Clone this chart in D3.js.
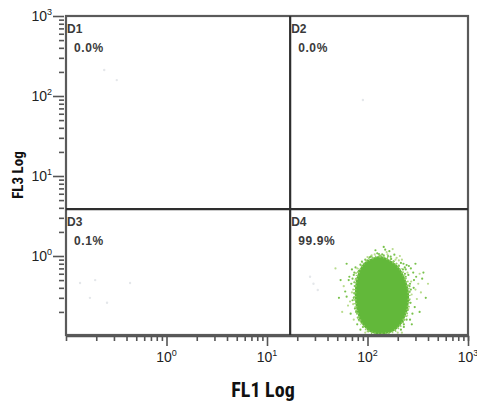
<!DOCTYPE html>
<html>
<head>
<meta charset="utf-8">
<script src="https://cdn.jsdelivr.net/npm/d3@7"></script>
<style>
  body { margin: 0; background: #fff; }
  svg { display: block; }
  .axis-title { font-family: "Liberation Sans Narrow", "Roboto Condensed", "DejaVu Sans Condensed", "Liberation Sans", sans-serif; font-weight: bold; font-stretch: condensed; fill: #111; }
  .tick-label { font-family: "Liberation Sans Narrow", "Liberation Sans", Arial, sans-serif; fill: #222; }
  .quad { font-family: "Liberation Sans", Arial, sans-serif; font-weight: bold; fill: #3a3a3a; }
</style>
</head>
<body>
<div id="chart"></div>
<script>
const WIDTH = 477;
const HEIGHT = 410;

// axis decades and labels
const X_DOMAIN = [0.1, 1000];
const Y_DOMAIN = [0.1, 1000];
const X_MAJOR = [1, 10, 100, 1000];
const Y_MAJOR = [1, 10, 100, 1000];
const X_EXPONENTS = ["0", "1", "2", "3"];
const Y_EXPONENTS = ["0", "1", "2", "3"];

// quadrant gates (FL1, FL3) and their stats
const GATE_FL1 = 17;
const GATE_FL3 = 3.85;
const QUAD_NAMES = ["D1", "D2", "D3", "D4"];
const QUAD_PERCENTS = ["0.0%", "0.0%", "0.1%", "99.9%"];

// outline of the dense population in D4, [FL1, FL3]
const CORE_OUTLINE = [
  [111, 0.94], [133, 1.0], [160, 0.92], [201, 0.75], [236, 0.53],
  [259, 0.33], [247, 0.20], [210, 0.133], [167, 0.109], [111, 0.109],
  [88, 0.141], [77, 0.224], [75, 0.376], [80, 0.596], [92, 0.82]
];

// sparse events around the population, [FL1, FL3]
const FRINGE_EVENTS = [
  [58, 0.42], [62, 0.31], [66, 0.55], [64, 0.24], [70, 0.68], [68, 0.19], [72, 0.38],
  [71, 0.28], [74, 0.47], [73, 0.16], [76, 0.72], [75, 0.22], [78, 0.33], [69, 0.45],
  [60, 0.36], [77, 0.61], [79, 0.14], [65, 0.5], [67, 0.27], [73, 0.58],
  [262, 0.42], [275, 0.33], [290, 0.5], [268, 0.26], [300, 0.38], [285, 0.62], [270, 0.7],
  [310, 0.29], [255, 0.58], [280, 0.19], [320, 0.45], [295, 0.23], [265, 0.16], [340, 0.35],
  [258, 0.75], [305, 0.55], [272, 0.48], [288, 0.4], [350, 0.52], [330, 0.6], [276, 0.14],
  [95, 0.9], [110, 1.02], [125, 1.08], [140, 1.05], [155, 1.12], [170, 0.98], [185, 1.04],
  [205, 0.88], [120, 1.18], [150, 1.2], [100, 0.97], [135, 0.99], [165, 1.15], [195, 0.95],
  [215, 0.82], [88, 0.85], [178, 1.22], [115, 0.93], [145, 1.3], [210, 1.0],
  [85, 0.78], [82, 0.65], [90, 0.72], [228, 0.8], [240, 0.68], [220, 0.9], [245, 0.77],
  [85, 0.12], [95, 0.11], [80, 0.17], [230, 0.13], [220, 0.11], [245, 0.16], [250, 0.21],
  [86, 0.15], [78, 0.52], [80, 0.3], [82, 0.2], [236, 0.6], [248, 0.4], [240, 0.25],
  [225, 0.15], [105, 0.96], [190, 0.9], [160, 1.0], [52, 0.3], [48, 0.7], [54, 0.5],
  [380, 0.3], [400, 0.45], [360, 0.62], [62, 0.8], [56, 0.2], [300, 0.8], [330, 0.2],
  [72, 0.25], [74, 0.34], [75, 0.42], [76, 0.5], [74, 0.62], [77, 0.2], [79, 0.7],
  [73, 0.3], [71, 0.52], [70, 0.35], [100, 0.88], [108, 0.98], [118, 1.05], [130, 1.06],
  [145, 1.02], [158, 1.05], [172, 0.92], [182, 0.86], [195, 0.8], [205, 0.76], [98, 0.8],
  [92, 0.76], [225, 0.68], [240, 0.55], [252, 0.48], [262, 0.36], [258, 0.28], [255, 0.22],
  [245, 0.3], [265, 0.45], [250, 0.62], [235, 0.72], [270, 0.38], [248, 0.18], [230, 0.14],
  [215, 0.12], [200, 0.11], [90, 0.13], [82, 0.16], [100, 0.115]
];

// faint stray events in the other quadrants, [FL1, FL3]
const STRAY_EVENTS = [
  [0.24, 211], [0.32, 158], [90, 89],
  [0.138, 0.46], [0.195, 0.5], [0.256, 0.26], [0.434, 0.46], [0.173, 0.3],
  [26.8, 0.55], [32, 0.376], [29, 0.45]
];

const X_SCALE = d3.scaleLog().domain(X_DOMAIN).range([66, 468]);
const Y_SCALE = d3.scaleLog().domain(Y_DOMAIN).range([336, 16]);

const SVG = d3.select("#chart").append("svg")
  .attr("width", WIDTH)
  .attr("height", HEIGHT);

const PLOT_LEFT = X_SCALE(X_DOMAIN[0]);
const PLOT_RIGHT = X_SCALE(X_DOMAIN[1]);
const PLOT_TOP = Y_SCALE(Y_DOMAIN[1]);
const PLOT_BOTTOM = Y_SCALE(Y_DOMAIN[0]) - 1;

SVG.append("defs").append("clipPath").attr("id", "plot-clip")
  .append("rect")
  .attr("x", PLOT_LEFT).attr("y", PLOT_TOP)
  .attr("width", PLOT_RIGHT - PLOT_LEFT).attr("height", PLOT_BOTTOM - PLOT_TOP);

const DOTS = SVG.append("g").attr("clip-path", "url(#plot-clip)");

DOTS.selectAll("circle.stray")
  .data(STRAY_EVENTS)
  .enter()
  .append("circle")
  .attr("class", "stray")
  .attr("cx", (d) => X_SCALE(d[0]))
  .attr("cy", (d) => Y_SCALE(d[1]))
  .attr("r", 1.2)
  .attr("fill", "#e4e7ea");

DOTS.selectAll("circle.fringe")
  .data(FRINGE_EVENTS)
  .enter()
  .append("circle")
  .attr("class", "fringe")
  .attr("cx", (d) => X_SCALE(d[0]))
  .attr("cy", (d) => Y_SCALE(d[1]))
  .attr("r", 1.1)
  .attr("fill", (d, i) => (i % 3 === 0 ? "#b9dc8e" : "#79c24c"));

const CORE_LINE = d3.line()
  .x((d) => X_SCALE(d[0]))
  .y((d) => Y_SCALE(d[1]))
  .curve(d3.curveCatmullRomClosed);

DOTS.append("path")
  .datum(CORE_OUTLINE)
  .attr("d", CORE_LINE)
  .attr("fill", "#62b83a")
  .attr("stroke", "#8fcb62")
  .attr("stroke-width", 3)
  .attr("stroke-dasharray", "1.5 2 1 2.5");

// plot frame and quadrant gates
SVG.append("rect")
  .attr("x", PLOT_LEFT)
  .attr("y", PLOT_TOP)
  .attr("width", PLOT_RIGHT - PLOT_LEFT)
  .attr("height", PLOT_BOTTOM - PLOT_TOP)
  .attr("fill", "none")
  .attr("stroke", "#5a5a5a")
  .attr("stroke-width", 2.2);

SVG.append("line")
  .attr("x1", X_SCALE(GATE_FL1)).attr("x2", X_SCALE(GATE_FL1))
  .attr("y1", PLOT_TOP).attr("y2", PLOT_BOTTOM)
  .attr("stroke", "#2e2e2e").attr("stroke-width", 2.2);

SVG.append("line")
  .attr("x1", PLOT_LEFT).attr("x2", PLOT_RIGHT)
  .attr("y1", Y_SCALE(GATE_FL3)).attr("y2", Y_SCALE(GATE_FL3))
  .attr("stroke", "#2e2e2e").attr("stroke-width", 2.2);

// quadrant labels
const QUAD_POS = [
  [PLOT_LEFT, PLOT_TOP],
  [X_SCALE(GATE_FL1), PLOT_TOP],
  [PLOT_LEFT, Y_SCALE(GATE_FL3)],
  [X_SCALE(GATE_FL1), Y_SCALE(GATE_FL3)]
];

QUAD_NAMES.forEach((name, i) => {
  const [qx, qy] = QUAD_POS[i];
  SVG.append("text")
    .attr("class", "quad")
    .attr("x", qx + 1)
    .attr("y", qy + 17)
    .style("font-size", "12px")
    .text(name);
  SVG.append("text")
    .attr("class", "quad")
    .attr("x", qx + 8)
    .attr("y", qy + 36)
    .style("font-size", "12px")
    .style("letter-spacing", "0.6px")
    .text(QUAD_PERCENTS[i]);
});

// axes
const X_MINOR = X_SCALE.ticks().filter((v) => X_MAJOR.indexOf(v) < 0 && v > X_DOMAIN[0]);
const Y_MINOR = Y_SCALE.ticks().filter((v) => Y_MAJOR.indexOf(v) < 0 && v > Y_DOMAIN[0]);

const X_AXIS_Y = Y_SCALE(Y_DOMAIN[0]);

const X_AXIS_G = SVG.append("g").attr("transform", "translate(0," + X_AXIS_Y + ")");
X_AXIS_G.append("g")
  .call(d3.axisBottom(X_SCALE).tickValues(X_MINOR).tickSize(5).tickFormat(""));
X_AXIS_G.append("g")
  .call(d3.axisBottom(X_SCALE).tickValues(X_MAJOR).tickSize(10).tickFormat(""))
  .select(".domain").remove();
X_AXIS_G.selectAll("path, line")
  .attr("stroke", "#555")
  .attr("stroke-width", 1.6);

const Y_AXIS_G = SVG.append("g").attr("transform", "translate(64,0)");
Y_AXIS_G.append("g")
  .call(d3.axisLeft(Y_SCALE).tickValues(Y_MINOR).tickSize(5).tickFormat(""));
Y_AXIS_G.append("g")
  .call(d3.axisLeft(Y_SCALE).tickValues(Y_MAJOR).tickSize(11).tickFormat(""));
Y_AXIS_G.selectAll(".domain").remove();
Y_AXIS_G.selectAll("line")
  .attr("stroke", "#555")
  .attr("stroke-width", 1.6);

X_MAJOR.forEach((v, i) => {
  const t = SVG.append("text")
    .attr("class", "tick-label")
    .attr("x", X_SCALE(v))
    .attr("y", 362)
    .attr("text-anchor", "middle")
    .style("font-size", "14px");
  t.append("tspan").text("10");
  t.append("tspan").attr("dy", -6).style("font-size", "9px").text(X_EXPONENTS[i]);
});

Y_MAJOR.forEach((v, i) => {
  const t = SVG.append("text")
    .attr("class", "tick-label")
    .attr("x", 52)
    .attr("y", Y_SCALE(v) + 5)
    .attr("text-anchor", "end")
    .style("font-size", "14px");
  t.append("tspan").text("10");
  t.append("tspan").attr("dy", -6).style("font-size", "9px").text(Y_EXPONENTS[i]);
});

SVG.append("text")
  .attr("class", "axis-title")
  .attr("x", 263)
  .attr("y", 397)
  .attr("text-anchor", "middle")
  .style("font-size", "20px")
  .text("FL1 Log");

SVG.append("text")
  .attr("class", "axis-title")
  .attr("transform", "translate(23,175) rotate(-90)")
  .attr("text-anchor", "middle")
  .style("font-size", "15px")
  .text("FL3 Log");
</script>
</body>
</html>
